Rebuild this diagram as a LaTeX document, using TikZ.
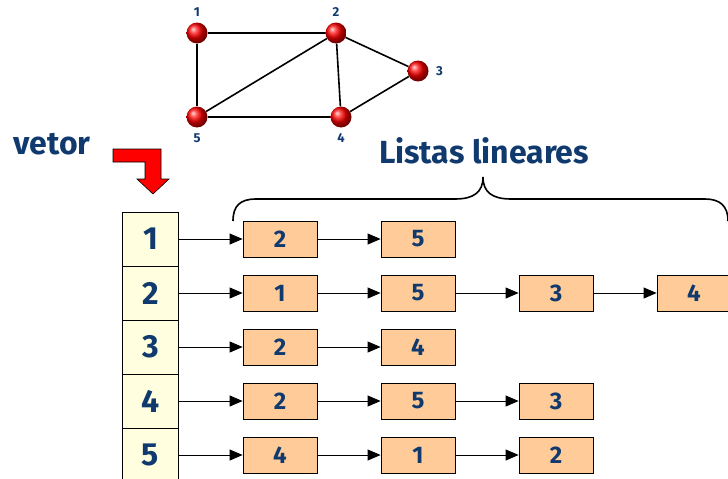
\documentclass[tikz,border=0pt]{standalone}
\usepackage{fontspec}
\setmainfont{Fira Sans}
\usetikzlibrary{positioning}
\usetikzlibrary{arrows.meta}
\usetikzlibrary{shadows}

\definecolor{inkblue}{RGB}{16,58,110}
\definecolor{cellyellow}{RGB}{255,255,224}
\definecolor{itempeach}{RGB}{255,204,153}

\begin{document}
\begin{tikzpicture}[x=1pt, y=-1pt,
    vertex/.style={circle, shading=ball, ball color=red, minimum size=21pt, inner sep=0pt},
    vlabel/.style={text=inkblue, font=\fontsize{13}{13}\selectfont\bfseries},
    cell/.style={draw, line width=0.8pt, fill=cellyellow, minimum width=56pt, minimum height=54pt, inner sep=0pt, text=inkblue, font=\fontsize{32}{32}\selectfont\bfseries},
    item/.style={draw, line width=0.8pt, fill=itempeach, minimum width=74pt, minimum height=36pt, inner sep=0pt, text=inkblue, font=\fontsize{24}{24}\selectfont\bfseries, drop shadow={shadow xshift=1.2pt, shadow yshift=-1.2pt, fill=black!25}},
    link/.style={-{Triangle[length=13pt, width=11pt]}, line width=0.8pt},
    title/.style={text=inkblue, font=\fontsize{32}{32}\selectfont\bfseries}]
        \useasboundingbox (0,0) rectangle (728,479);

        % The graph
        \node[vertex, label={[vlabel, label distance=2pt]above:1}] (g1) at (197,33) {};
        \node[vertex, label={[vlabel, label distance=2pt]above:2}] (g2) at (336,33) {};
        \node[vertex, label={[vlabel, label distance=4pt]right:3}] (g3) at (418,71) {};
        \node[vertex, label={[vlabel, label distance=2pt]below:4}] (g4) at (341,117) {};
        \node[vertex, label={[vlabel, label distance=2pt]below:5}] (g5) at (197,117) {};

        \begin{scope}[line width=1.6pt]
          \draw (g1) -- (g2);
          \draw (g1) -- (g5);
          \draw (g5) -- (g2);
          \draw (g2) -- (g4);
          \draw (g2) -- (g3);
          \draw (g3) -- (g4);
          \draw (g5) -- (g4);
        \end{scope}

        % Labels
        \node[title, anchor=base] (vetor) at (52,154) {vetor};
        \node[title, anchor=base] (listas) at (484,163) {Listas lineares};

        % Red bent arrow
        \draw[fill=red, line width=0.6pt] (113,149) -- (161,149) -- (161,179) -- (169,179) -- (153,194)
              -- (137,179) -- (145,179) -- (145,162) -- (113,162) -- cycle;

        % Brace over the lists
        \draw[line width=1.6pt] (233,221) .. controls (233,206) and (240,199) .. (256,199)
              -- (455,199) .. controls (474,199) and (483,192) .. (483,177)
              .. controls (483,192) and (492,199) .. (511,199)
              -- (705,199) .. controls (720,199) and (728,206) .. (728,221);

        % Vector and linked lists
        \def\prev{}
        \foreach \r/\vals in {1/{2,5}, 2/{1,5,3,4}, 3/{2,4}, 4/{2,5,3}, 5/{4,1,2}}
        {
          \node[cell] (v\r) at (150.5, {239+54*(\r-1)}) {\r};
          \xdef\prev{v\r}
          \foreach \v [count=\c] in \vals
          {
            \node[item] (l\r-\c) at ({280+138*(\c-1)}, {239+54*(\r-1)}) {\v};
            \draw[link] (\prev) -- (l\r-\c);
            \xdef\prev{l\r-\c}
          }
        }
\end{tikzpicture}
\end{document}
